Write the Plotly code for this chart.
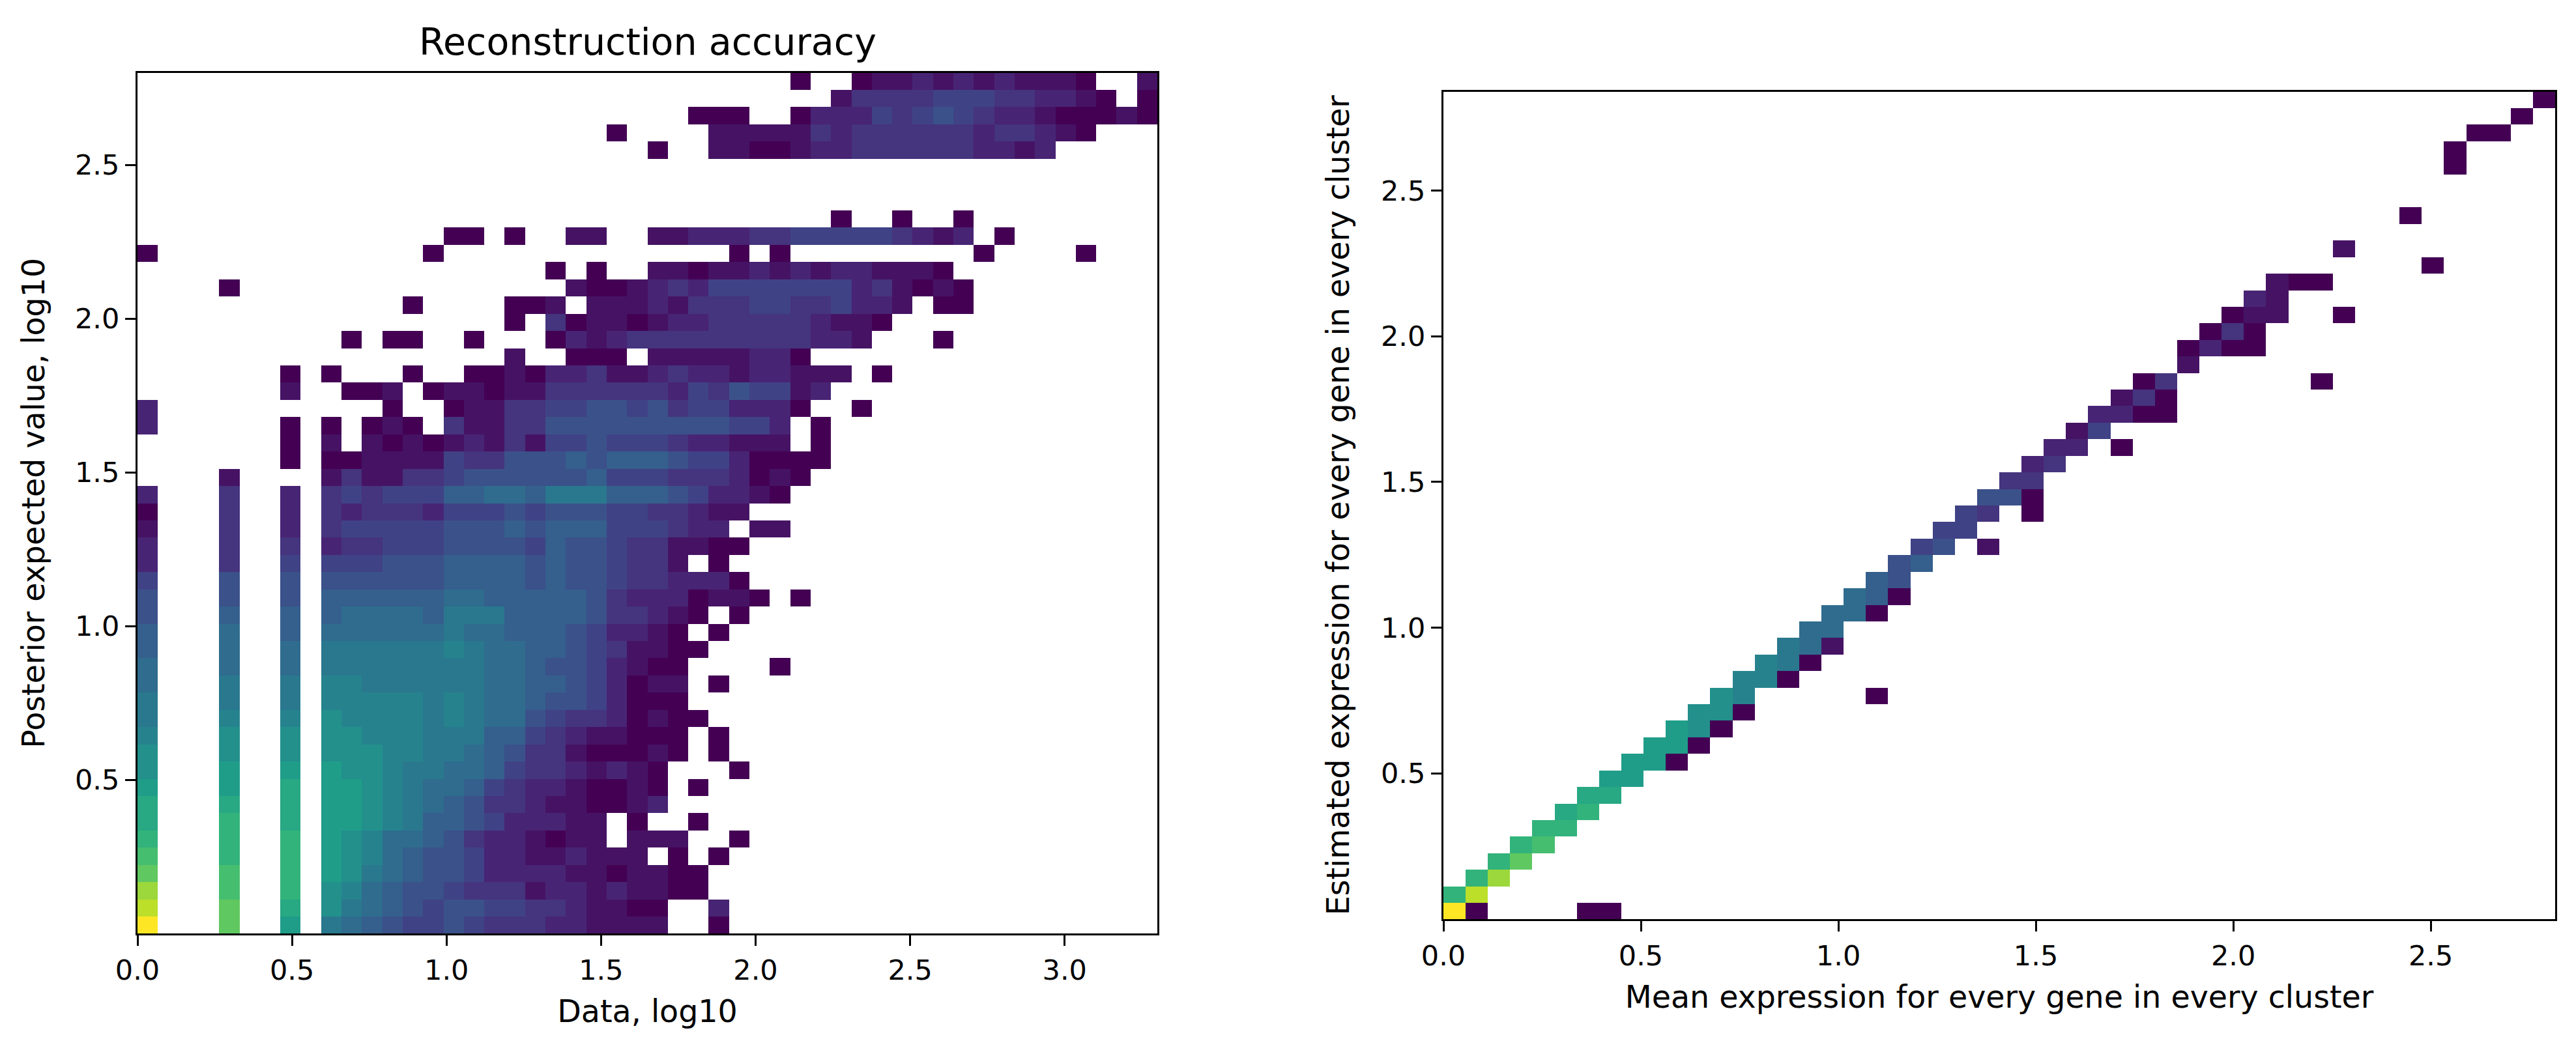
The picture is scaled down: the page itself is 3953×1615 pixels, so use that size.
import plotly.graph_objects as go

# Levels: 0-9a-k = position on the colour scale in twentieths, "." = empty bin. Top row first.
left_levels = [
"..... ..... ..... ..... ..... ..... ..0.. 01121 21211 10..1",
"..... ..... ..... ..... ..... ..... ....1 33334 44332 210.0",
"..... ..... ..... ..... ..... ..000 ..022 24345 43221 00010",
"..... ..... ..... ..... ...0. ...11 11132 33333 32332 10...",
"..... ..... ..... ..... ..... 0..11 00122 33333 32212 .....",
"..... ..... ..... ..... ..... ..... ..... ..... ..... .....",
"..... ..... ..... ..... ..... ..... ..... ..... ..... .....",
"..... ..... ..... ..... ..... ..... ..... ..... ..... .....",
"..... ..... ..... ..... ..... ..... ....0 ..0.. 0.... .....",
"..... ..... ..... 00.0. .11.. 11222 33444 44321 2.0.. .....",
"0.... ..... ....0 ..... ..... ....0 .0... ..... .0... .0...",
"..... ..... ..... ..... 0.0.. 11011 21212 21110 ..... .....",
"....0 ..... ..... ..... .1001 23244 44444 23101 0.... .....",
"..... ..... ...0. ...00 1.111 21333 44334 221.0 0.... .....",
"..... ..... ..... ...0. 30110 12233 33321 10... ..... .....",
"..... ..... 0.00. .0... 02123 33333 33322 1...0 ..... .....",
"..... ..... ..... ...1. .000. 11111 220.. ..... ..... .....",
"..... ..0.0 ...0. .0010 22311 23221 22111 .0... ..... .....",
"..... ..1.. 001.0 11011 33333 32435 4412. ..... ..... .....",
"2.... ..... ..0.. 01133 44554 53442 220.. 0.... ..... .....",
"2.... ..0.0 .010. 31133 55555 55554 42.0. ..... ..... .....",
"..... ..0.1 .1010 12131 44544 43221 11.0. ..... ..... .....",
"..... ..0.0 01111 43355 56566 65442 0000. ..... ..... .....",
"....1 ....1 31133 45555 55644 43332 010.. ..... ..... .....",
"2...3 ..2.3 43444 66776 88866 65422 10... ..... ..... .....",
"0...3 ..2.3 23332 44454 55544 33211 ..... ..... ..... .....",
"1...3 ..2.3 44444 55565 66644 4322. 11... ..... ..... .....",
"2...3 ..3.2 33444 55554 65543 31100 ..... ..... ..... .....",
"2...3 ..4.4 44555 66665 65543 31.0. ..... ..... ..... .....",
"4...5 ..5.5 55555 66665 65543 32220 ..... ..... ..... .....",
"5...5 ..5.6 66666 77666 66532 22011 0.0.. ..... ..... .....",
"5...6 ..6.6 77776 88866 66533 210.0 ..... ..... ..... .....",
"6...7 ..6.7 77777 87766 65422 10.0. ..... ..... ..... .....",
"6...7 ..7.8 88888 98776 65431 100.. ..... ..... ..... .....",
"7...7 ..7.8 88888 88776 55421 00... .0... ..... ..... .....",
"7...8 ..8.9 98888 88776 65420 11.0. ..... ..... ..... .....",
"8...8 ..8.9 99998 98776 55420 00... ..... ..... ..... .....",
"8...9 ..9.a 99998 98775 43320 100.. ..... ..... ..... .....",
"9...a ..a.a a9998 88664 32110 00.0. ..... ..... ..... .....",
"a...a ..a.a aa998 87653 31000 10.0. ..... ..... ..... .....",
"a...b ..b.b aa988 77643 32121 0...0 ..... ..... ..... .....",
"b...b ..c.b ba987 76432 21001 0.0.. ..... ..... ..... .....",
"c...c ..c.b ba987 65332 11001 2.... ..... ..... ..... .....",
"c...d ..c.b ba986 65422 211.0 ..0.. ..... ..... ..... .....",
"d...d ..d.b a9776 53221 011.1 11..0 ..... ..... ..... .....",
"e...d ..d.b a9765 54221 12111 .0.0. ..... ..... ..... .....",
"f...e ..d.b a8765 54222 21101 100.. ..... ..... ..... .....",
"h...e ..d.a 97655 43331 22121 100.. ..... ..... ..... .....",
"i...f ..c.a 87654 55443 32110 0..2. ..... ..... ..... .....",
"k...f ..b.8 76544 54333 22111 1..0. ..... ..... ..... .....",
]

# Occupied bins of the right histogram: row from the top, column from the left, level
right_bin_row = [0,1,2,2,3,4,7,9,10,11,11,11,12,12,13,13,13,13,14,14,14,15,15,15,15,16,17,17,17,
                 18,18,18,19,19,19,19,20,20,21,21,21,22,22,23,23,24,24,24,25,25,25,26,26,27,27,27,
                 28,28,29,29,30,30,30,31,31,31,32,32,33,33,33,34,34,34,35,35,35,36,36,36,37,37,37,
                 38,38,38,39,39,39,40,40,40,41,41,42,42,43,43,44,44,45,45,46,46,47,47,48,48,49,49,49,49]
right_bin_col = [49,48,46,47,45,45,43,40,44,37,38,39,36,37,35,36,37,40,34,35,36,33,34,35,36,33,31,32,39,
                 30,31,32,29,30,31,32,28,29,27,28,30,26,27,25,26,24,25,26,23,24,26,22,23,21,22,24,
                 20,21,19,20,18,19,20,17,18,19,16,17,15,16,17,14,15,16,13,14,15,12,13,19,11,12,13,
                 10,11,12,9,10,11,8,9,10,7,8,6,7,5,6,4,5,3,4,2,3,1,2,0,1,0,1,6,7]
right_bin_level = ["0","0","0","0","0","0","0","1","0","1","0","0","2","1","0","1","1","0","0","3","0","0","2","0","0","1","0","3","0",
                   "1","3","0","2","2","0","0","1","4","2","2","0","2","3","3","3","5","5","0","4","3","0","4","4","4","5","1",
                   "5","6","6","5","7","6","0","7","7","0","7","7","8","7","1","9","8","0","9","9","0","a","9","0","a","a","0",
                   "b","a","0","b","b","0","b","b","0","b","b","c","c","c","d","d","d","d","e","d","f","d","h","d","i","k","0","0","0"]

left_title = "Reconstruction accuracy"
left_xlabel = "Data, log10"
left_ylabel = "Posterior expected value, log10"
right_xlabel = "Mean expression for every gene in every cluster"
right_ylabel = "Estimated expression for every gene in every cluster"
left_xmax, left_ymax = 3.30, 2.80
right_xmax, right_ymax = 2.815, 2.84
x_ticks = [0, 0.5, 1, 1.5, 2, 2.5, 3]
right_x_ticks = [0, 0.5, 1, 1.5, 2, 2.5]
y_ticks = [0.5, 1, 1.5, 2, 2.5]
N = 50

W, H = 3953, 1615
left_box = (211, 1776, 111.5, 1433)
right_box = (2215, 3921, 140.5, 1411)


def lev(c):
    return None if c == "." else int(c, 36)


zl = [[lev(c) for c in r.replace(" ", "")] for r in left_levels][::-1]
zr = [[None] * N for _ in range(N)]
for r, c, v in zip(right_bin_row, right_bin_col, right_bin_level):
    zr[N - 1 - r][c] = lev(v)

fig = go.Figure()
fig.add_trace(go.Heatmap(z=zl, x0=left_xmax / N / 2, dx=left_xmax / N, y0=left_ymax / N / 2, dy=left_ymax / N,
                         colorscale="Viridis", zmin=0, zmax=20, showscale=False, xaxis="x", yaxis="y"))
fig.add_trace(go.Heatmap(z=zr, x0=right_xmax / N / 2, dx=right_xmax / N, y0=right_ymax / N / 2, dy=right_ymax / N,
                         colorscale="Viridis", zmin=0, zmax=20, showscale=False, xaxis="x2", yaxis="y2"))

FONT = "DejaVu Sans"
TICK = dict(family=FONT, size=43, color="black")
LABEL = dict(family=FONT, size=47.5, color="black")
def axis(domain, rng, vals, title, standoff, anchor):
    return dict(domain=domain, range=rng, tickvals=vals, ticktext=[f"{v:.1f}" for v in vals],
                ticks="outside", ticklen=16, tickwidth=3, tickcolor="black", tickfont=TICK,
                showline=True, linecolor="black", linewidth=3, mirror=True, showgrid=False, zeroline=False,
                anchor=anchor, automargin=False, title=dict(text=title, font=LABEL, standoff=standoff))

fig.update_layout(
    width=W, height=H, margin=dict(l=0, r=0, t=0, b=0), paper_bgcolor="white", plot_bgcolor="white",
    xaxis=axis([left_box[0] / W, left_box[1] / W], [0, left_xmax], x_ticks, left_xlabel, 24, "y"),
    yaxis=axis([1 - left_box[3] / H, 1 - left_box[2] / H], [0, left_ymax], y_ticks, left_ylabel, 32, "x"),
    xaxis2=axis([right_box[0] / W, right_box[1] / W], [0, right_xmax], right_x_ticks, right_xlabel, 24, "y2"),
    yaxis2=axis([1 - right_box[3] / H, 1 - right_box[2] / H], [0, right_ymax], y_ticks, right_ylabel, 34, "x2"),
    annotations=[dict(text=left_title, xref="paper", yref="paper", x=(left_box[0] + left_box[1]) / 2 / W,
                      y=1 - left_box[2] / H + 0.008, yanchor="bottom", xanchor="center", showarrow=False,
                      font=dict(family=FONT, size=57, color="black"))],
)
fig.write_html("out.html", config={"displayModeBar": False},
               post_script="document.body.style.margin='0';document.documentElement.style.overflow='hidden';")
